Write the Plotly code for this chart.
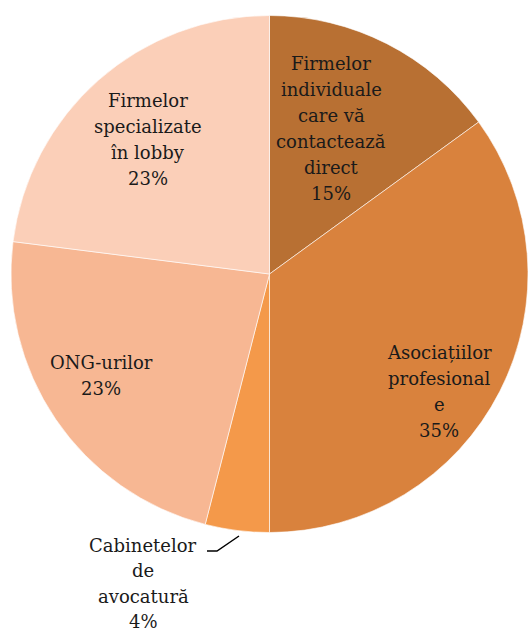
import plotly.graph_objects as go

labels = ["Firmelor individuale care vă contactează direct", "Asociațiilor profesionale",
          "Cabinetelor de avocatură", "ONG-urilor", "Firmelor specializate în lobby"]
values = [15, 35, 4, 23, 23]
colors = ["#B87033", "#D9823D", "#F4994A", "#F7B793", "#FBCFB8"]
label_lines = [["Firmelor", "individuale", "care vă", "contactează", "direct"],
               ["Asociațiilor", "profesional", "e"],
               ["Cabinetelor", "de", "avocatură"],
               ["ONG-urilor"],
               ["Firmelor", "specializate", "în lobby"]]
# screen position (x centre, y of first line, line spacing) of each label block
label_pos = [(331, 63, 26.1), (439, 352, 26.1), (143, 545, 25.6), (101, 362, 26.1), (148, 100, 26.1)]

W, H = 528, 633
FONT = "DejaVu Serif, Palatino Linotype, Book Antiqua, serif"


def px(x):
    return x / W


def py(y):
    return 1 - y / H


# pie: centre (270,274) radius 259 in screen coords
cx, cy, r = 270, 274, 259
fig = go.Figure(go.Pie(
    labels=labels, values=values, sort=False, direction="clockwise", rotation=0,
    marker=dict(colors=colors, line=dict(color="rgba(255,255,255,0.6)", width=1)),
    textinfo="none", hoverinfo="label+percent", showlegend=False,
    domain=dict(x=[max(0, px(cx - r)), min(1, px(cx + r))], y=[py(cy + r), py(cy - r)]),
))

for lines, v, (x0, y0, step) in zip(label_lines, values, label_pos):
    for i, t in enumerate(lines + [f"{v}%"]):
        fig.add_annotation(x=px(x0), y=py(y0 + i * step), xref="paper", yref="paper",
                           text=t, showarrow=False, xanchor="center", yanchor="middle",
                           font=dict(family=FONT, size=18, color="#1a1a1a"))

fig.add_shape(type="path", xref="paper", yref="paper",
              path=f"M {px(207)},{py(551)} L {px(217)},{py(551)} L {px(239)},{py(536)}",
              line=dict(color="black", width=1.5))

fig.update_layout(width=W, height=H, margin=dict(l=0, r=0, t=0, b=0),
                  paper_bgcolor="white", plot_bgcolor="white")
fig.write_html("out.html", config={"displayModeBar": False},
               post_script="document.body.style.margin='0';document.body.style.overflow='hidden';")
